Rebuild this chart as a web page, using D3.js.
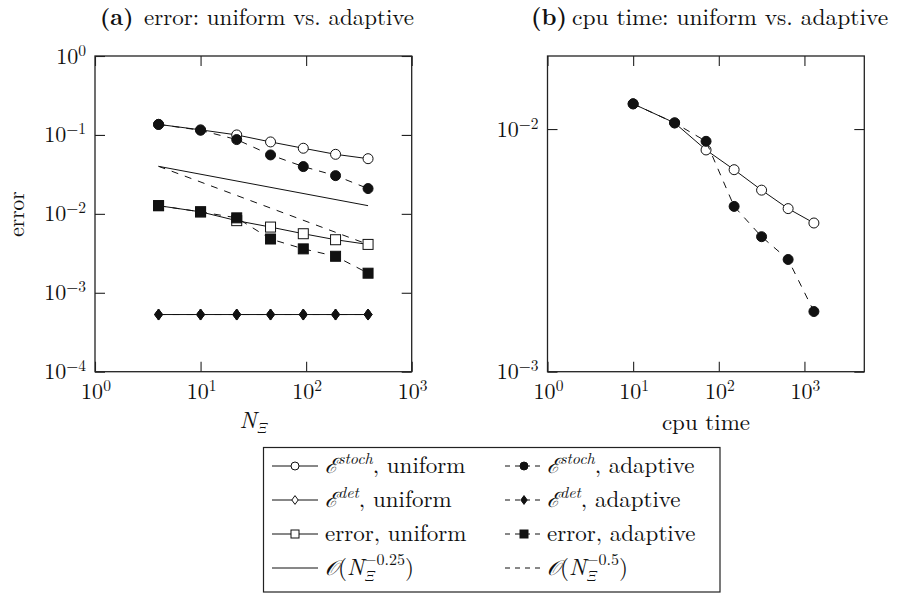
<!DOCTYPE html>
<html>
<head>
<meta charset="utf-8">
<script src="https://cdn.jsdelivr.net/npm/d3@7"></script>
<style>
  body { margin: 0; background: #fff; }
  svg { display: block; }
  text { font-family: "Latin Modern Roman", "Liberation Serif", "DejaVu Serif", serif; fill: #111; }
</style>
</head>
<body>
<svg id="chart" width="901" height="594"></svg>
<script>
// ---------------- data ----------------
const nXi = [4, 10, 22, 46, 94, 190, 386];
const stochUniform = [0.136, 0.116, 0.100, 0.0815, 0.0678, 0.0568, 0.0500];
const stochAdaptive = [0.136, 0.1146, 0.0873, 0.0558, 0.0397, 0.0305, 0.0209];
const detUniform = [0.00053, 0.00053, 0.00053, 0.00053, 0.00053, 0.00053, 0.00053];
const detAdaptive = [0.00053, 0.00053, 0.00053, 0.00053, 0.00053, 0.00053, 0.00053];
const errUniform = [0.0127, 0.0106, 0.0082, 0.0068, 0.0056, 0.0047, 0.0041];
const errAdaptive = [0.0127, 0.0106, 0.0089, 0.0048, 0.0036, 0.0029, 0.00177];
const cpuTime = [10, 30.5, 71, 151, 316, 645, 1290];
const refN = [4, 386];
const ref025 = [0.040, 0.0127];
const ref05 = [0.040, 0.0041];
const xTicksA = [1, 10, 100, 1000];
const yTicksA = [1e-4, 1e-3, 1e-2, 1e-1, 1];
const xTicksB = [1, 10, 100, 1000];
const yTicksB = [1e-3, 1e-2];

// ---------------- setup ----------------
const svg = d3.select("#chart");
const FS = 23;       // titles, labels, legend
const FT = 22;       // tick labels
const DASH = "7,7";
const plotTop = 56, plotBottom = 371.7;

const xA = d3.scaleLog().domain([1, 1000]).range([95, 411.7]);
const yA = d3.scaleLog().domain([1e-4, 1]).range([plotBottom, plotTop]);
const xB = d3.scaleLog().domain([1, 5000]).range([547.5, 864.3]);
const yB = d3.scaleLog().domain([1e-3, 0.02]).range([plotBottom, plotTop]);

function powLabel(sel, d) {
  const e = Math.round(Math.log10(d));
  sel.text(null);
  sel.append("tspan").text("10");
  sel.append("tspan").attr("dy", -8).attr("font-size", 15.5).text(e < 0 ? "\u2212" + (-e) : String(e));
}

function frame(g, x, y, xt, yt) {
  const [x0, x1] = x.range();
  const [y0, y1] = y.range();
  g.append("g").attr("transform", `translate(0,${y0})`)
    .call(d3.axisBottom(x).tickValues(xt).tickSize(-10).tickFormat(""))
    .call(s => s.select(".domain").remove());
  g.append("g").attr("transform", `translate(0,${y1})`)
    .call(d3.axisTop(x).tickValues(xt).tickSize(-10).tickFormat(""))
    .call(s => s.select(".domain").remove());
  g.append("g").attr("transform", `translate(${x0},0)`)
    .call(d3.axisLeft(y).tickValues(yt).tickSize(-10).tickFormat(""))
    .call(s => s.select(".domain").remove());
  g.append("g").attr("transform", `translate(${x1},0)`)
    .call(d3.axisRight(y).tickValues(yt).tickSize(-10).tickFormat(""))
    .call(s => s.select(".domain").remove());
  g.selectAll(".tick line").attr("stroke", "#222").attr("stroke-width", 1.1);
  g.append("rect").attr("x", x0).attr("y", y1).attr("width", x1 - x0).attr("height", y0 - y1)
    .attr("fill", "none").attr("stroke", "#222").attr("stroke-width", 1.3);
  xt.forEach(d => {
    g.append("text").attr("x", x(d) + 1).attr("y", y0 + 27.5).attr("text-anchor", "middle")
      .attr("font-size", FT).call(s => powLabel(s, d));
  });
  yt.forEach(d => {
    g.append("text").attr("x", x0 - 9).attr("y", y(d) + 7.5).attr("text-anchor", "end")
      .attr("font-size", FT).call(s => powLabel(s, d));
  });
}

const gA = svg.append("g");
const gB = svg.append("g");
frame(gA, xA, yA, xTicksA, yTicksA);
frame(gB, xB, yB, xTicksB, yTicksB);

function title(xl, xt, letter, rest, fs) {
  svg.append("text").attr("x", xl).attr("y", 25).attr("font-size", fs).attr("font-weight", "bold").text(letter);
  svg.append("text").attr("x", xt).attr("y", 25).attr("font-size", fs).text(rest);
}
title(100, 144, "(a)", "error: uniform vs. adaptive", 23);
title(531, 572, "(b)", "cpu time: uniform vs. adaptive", 23.5);

const nl = svg.append("text").attr("x", 253).attr("y", 428).attr("text-anchor", "middle").attr("font-size", FS);
nl.append("tspan").attr("font-style", "italic").text("N");
nl.append("tspan").attr("font-style", "italic").attr("font-size", 15).attr("dy", 5).text("\u039E");
svg.append("text").attr("x", 706).attr("y", 430).attr("text-anchor", "middle").attr("font-size", FS).text("cpu time");
svg.append("text").attr("transform", "translate(24,214) rotate(-90)").attr("text-anchor", "middle")
  .attr("font-size", 21.5).text("error");

// ---------------- marks ----------------
function marker(g, type, cx, cy, filled, s) {
  const fill = filled ? "#111" : "#fff";
  if (type === "circle") {
    g.append("circle").attr("cx", cx).attr("cy", cy).attr("r", 5 * s)
      .attr("fill", fill).attr("stroke", "#111").attr("stroke-width", 1);
  } else if (type === "square") {
    g.append("rect").attr("x", cx - 5 * s).attr("y", cy - 5 * s).attr("width", 10 * s).attr("height", 10 * s)
      .attr("fill", fill).attr("stroke", "#111").attr("stroke-width", 1);
  } else if (type === "diamond") {
    const w = 4 * s, h = 5.5 * s;
    g.append("path").attr("d", `M${cx},${cy - h}L${cx + w},${cy}L${cx},${cy + h}L${cx - w},${cy}Z`)
      .attr("fill", fill).attr("stroke", "#111").attr("stroke-width", 1);
  }
}

function series(g, x, y, xs, ys, dashed, type, filled) {
  const pts = xs.map((d, i) => [x(d), y(ys[i])]);
  g.append("path").attr("d", d3.line()(pts)).attr("fill", "none").attr("stroke", "#111")
    .attr("stroke-width", 1).attr("stroke-dasharray", dashed ? DASH : null);
  if (type) pts.forEach(p => marker(g, type, p[0], p[1], filled, 1));
}

series(gA, xA, yA, nXi, stochUniform, false, "circle", false);
series(gA, xA, yA, nXi, stochAdaptive, true, "circle", true);
series(gA, xA, yA, nXi, detUniform, false, "diamond", false);
series(gA, xA, yA, nXi, detAdaptive, true, "diamond", true);
series(gA, xA, yA, nXi, errUniform, false, "square", false);
series(gA, xA, yA, nXi, errAdaptive, true, "square", true);
series(gA, xA, yA, refN, ref025, false, null, false);
series(gA, xA, yA, refN, ref05, true, null, false);

series(gB, xB, yB, cpuTime, errUniform, false, "circle", false);
series(gB, xB, yB, cpuTime, errAdaptive, true, "circle", true);

// ---------------- legend ----------------
const lg = svg.append("g");
lg.append("rect").attr("x", 263.5).attr("y", 447.5).attr("width", 456.5).attr("height", 144.5)
  .attr("fill", "#fff").attr("stroke", "#222").attr("stroke-width", 1.2);
const rowsY = [466, 500, 534, 568];
const col = [{x0: 272, x1: 318, tx: 325}, {x0: 505, x1: 543, tx: 547}];

function scriptE(t, sup) {
  t.append("tspan").attr("font-family", "DejaVu Serif").attr("font-style", "italic").attr("font-size", 21).text("\u2130");
  t.append("tspan").attr("font-style", "italic").attr("font-size", 16).attr("dy", -9).text(sup);
}
function orderLabel(t, p) {
  t.append("tspan").attr("font-family", "DejaVu Serif").attr("font-style", "italic").attr("font-size", 21).text("\u{1D4AA}");
  t.append("tspan").text("(");
  t.append("tspan").attr("font-style", "italic").text("N");
  t.append("tspan").attr("font-style", "italic").attr("font-size", 15).attr("dy", 6).text("\u039E");
  t.append("tspan").attr("font-size", 16).attr("dx", -10).attr("dy", -16).text(p);
  t.append("tspan").attr("dy", 10).text(")");
}

const legendItems = [
  {r: 0, c: 0, type: "circle", filled: false, dashed: false, lab: t => { scriptE(t, "stoch"); t.append("tspan").attr("dy", 9).text(", uniform"); }},
  {r: 0, c: 1, type: "circle", filled: true, dashed: true, lab: t => { scriptE(t, "stoch"); t.append("tspan").attr("dy", 9).text(", adaptive"); }},
  {r: 1, c: 0, type: "diamond", filled: false, dashed: false, lab: t => { scriptE(t, "det"); t.append("tspan").attr("dy", 9).text(", uniform"); }},
  {r: 1, c: 1, type: "diamond", filled: true, dashed: true, lab: t => { scriptE(t, "det"); t.append("tspan").attr("dy", 9).text(", adaptive"); }},
  {r: 2, c: 0, type: "square", filled: false, dashed: false, lab: t => t.text("error, uniform")},
  {r: 2, c: 1, type: "square", filled: true, dashed: true, lab: t => t.text("error, adaptive")},
  {r: 3, c: 0, type: null, filled: false, dashed: false, lab: t => orderLabel(t, "\u22120.25")},
  {r: 3, c: 1, type: null, filled: false, dashed: true, lab: t => orderLabel(t, "\u22120.5")}
];
legendItems.forEach(it => {
  const cy = rowsY[it.r], c = col[it.c];
  lg.append("line").attr("x1", c.x0).attr("x2", c.x1).attr("y1", cy).attr("y2", cy)
    .attr("stroke", "#111").attr("stroke-width", 1).attr("stroke-dasharray", it.dashed ? "5,5" : null);
  if (it.type) marker(lg, it.type, (c.x0 + c.x1) / 2, cy, it.filled, 0.8);
  const t = lg.append("text").attr("x", c.tx).attr("y", cy + 7).attr("font-size", FS);
  it.lab(t);
});
</script>
</body>
</html>
